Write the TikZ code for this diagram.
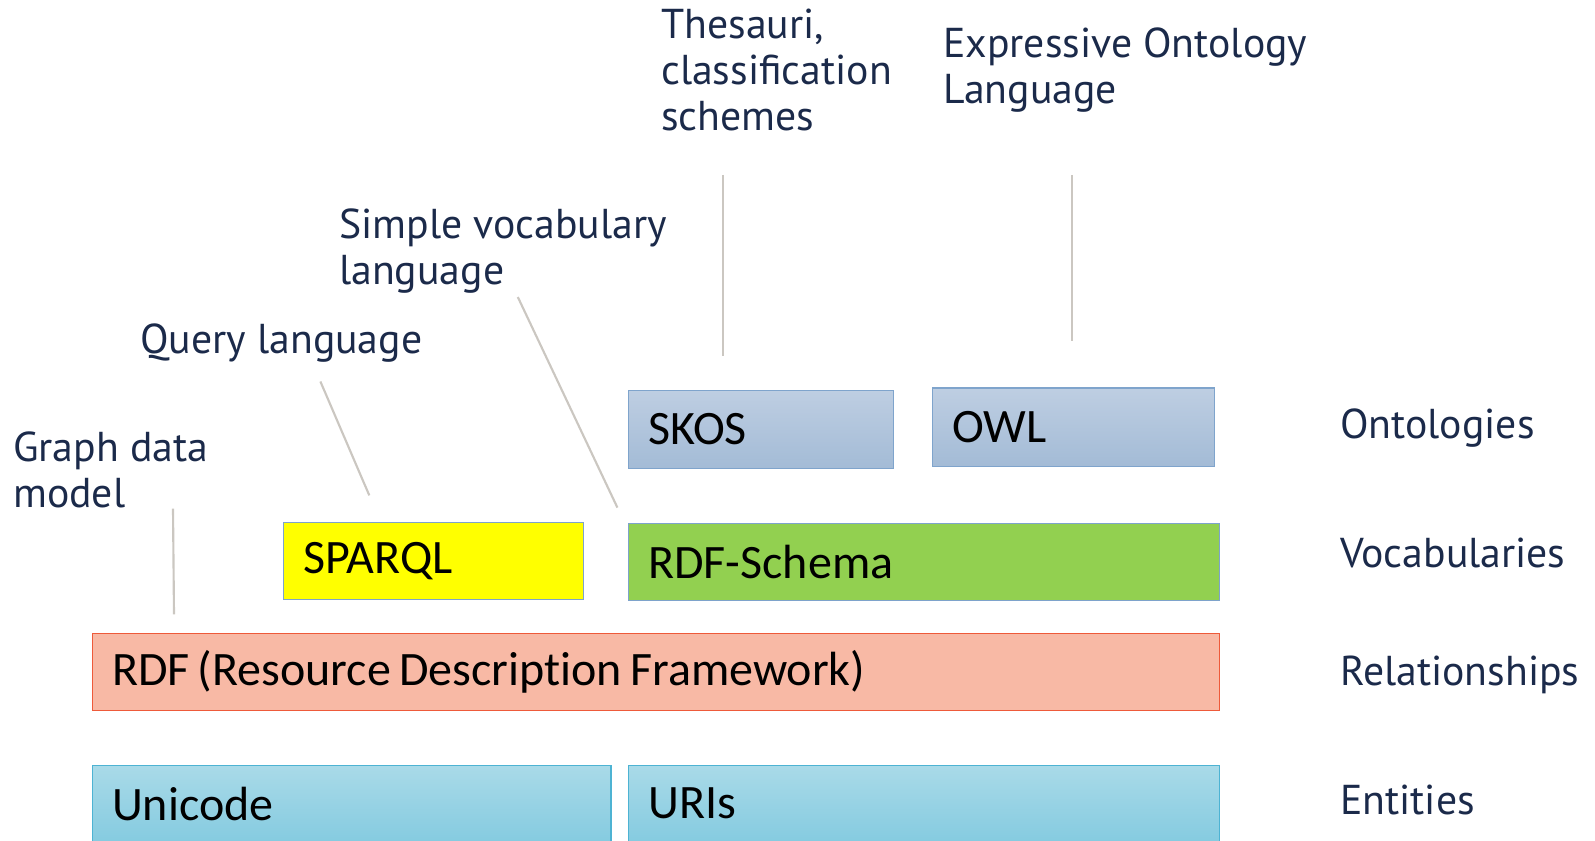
\documentclass[tikz,border=0pt]{standalone}
\usepackage{fontspec}
\setmainfont{Carlito}[Ligatures=CommonOff]
\newfontfamily\labelfont{PT Sans}
\definecolor{labtext}{HTML}{1B2A4A}
\definecolor{connector}{HTML}{CBC7C1}
\definecolor{ontotop}{HTML}{BECEE2}
\definecolor{ontobot}{HTML}{A3BBD6}
\definecolor{ontoline}{HTML}{7FA4CC}
\definecolor{schemafill}{HTML}{92D050}
\definecolor{schemaline}{HTML}{7EA3CB}
\definecolor{sparqlfill}{HTML}{FFFF00}
\definecolor{rdffill}{HTML}{F8B9A5}
\definecolor{rdfline}{HTML}{EE5A3A}
\definecolor{enttop}{HTML}{A9DAE8}
\definecolor{entbot}{HTML}{85CBE0}
\definecolor{entline}{HTML}{4DB3D3}
\tikzset{
  box/.style={anchor=north west, inner xsep=15pt, inner ysep=0pt, align=left,
    font=\fontsize{36}{40}\selectfont, text=black, line width=1pt,
    execute at begin node={\spaceskip=6.1pt\relax}},
  ontobox/.style={box, draw=ontoline, top color=ontotop, bottom color=ontobot},
  entbox/.style={box, draw=entline, top color=enttop, bottom color=entbot},
  lab/.style={anchor=north west, inner sep=0pt, align=left, text=labtext,
    font=\labelfont\fontsize{31.3}{34.3}\selectfont},
  side/.style={anchor=west, inner sep=0pt, text=labtext,
    font=\labelfont\fontsize{31.3}{34.3}\selectfont},
  conn/.style={draw=connector, line width=1.6pt},
}
\begin{document}
\begin{tikzpicture}[x=0.75pt, y=-0.75pt]
\useasboundingbox (0,0) rectangle (1595,841);
% boxes
\node[ontobox, text width=169.05pt, minimum height=58.8pt] (skos) at (627.6,389.6) {SKOS};
\node[ontobox, text width=181.3pt, minimum height=58.9pt] (owl) at (931.8,387.5) {OWL};
\node[box, draw=schemaline, fill=sparqlfill, text width=195.1pt, minimum height=58pt] (sparql) at (282.8,521.8) {SPARQL};
\node[box, draw=schemaline, fill=schemafill, text width=413.3pt, minimum height=57.9pt] (rdfs) at (627.6,522.8) {RDF-Schema};
\node[box, draw=rdfline, fill=rdffill, text width=815.3pt, minimum height=58pt] (rdf) at (91.5,632.7) {RDF (Resource Description Framework)};
\node[entbox, text width=359.1pt, minimum height=57pt] (unicode) at (91.5,765) {Unicode};
\node[entbox, text width=413.3pt, minimum height=57pt] (uris) at (627.6,765) {URIs};
% side labels
\node[side] (onto) at (1340,428) {Ontologies};
\node[side] (voc) at (1340,553) {Vocabularies};
\node[side] (rel) at (1340,675) {Relationships};
\node[side] (ent) at (1340,800) {Entities};
% description labels
\node[lab] (thes) at (661,9) {Thesauri,\\classification\\schemes};
\node[lab] (expr) at (943,28) {Expressive Ontology\\Language};
\node[lab] (simple) at (339,209) {Simple vocabulary\\language};
\node[lab] (query) at (140,324) {Query language};
\node[lab] (graph) at (13,432) {Graph data\\model};
% connector ends
\coordinate (g1) at (173,508.6);  \coordinate (g2) at (174,614.4);
\coordinate (q1) at (320.4,381.5); \coordinate (q2) at (369.3,495.4);
\coordinate (s1) at (517.8,297);  \coordinate (s2) at (617.4,507.6);
\coordinate (t1) at (723.2,175);  \coordinate (t2) at (723.2,356);
\coordinate (e1) at (1072,175);   \coordinate (e2) at (1072,340.8);
\draw[conn] (g1) -- (g2);
\draw[conn] (q1) -- (q2);
\draw[conn] (s1) -- (s2);
\draw[conn] (t1) -- (t2);
\draw[conn] (e1) -- (e2);
\end{tikzpicture}
\end{document}
